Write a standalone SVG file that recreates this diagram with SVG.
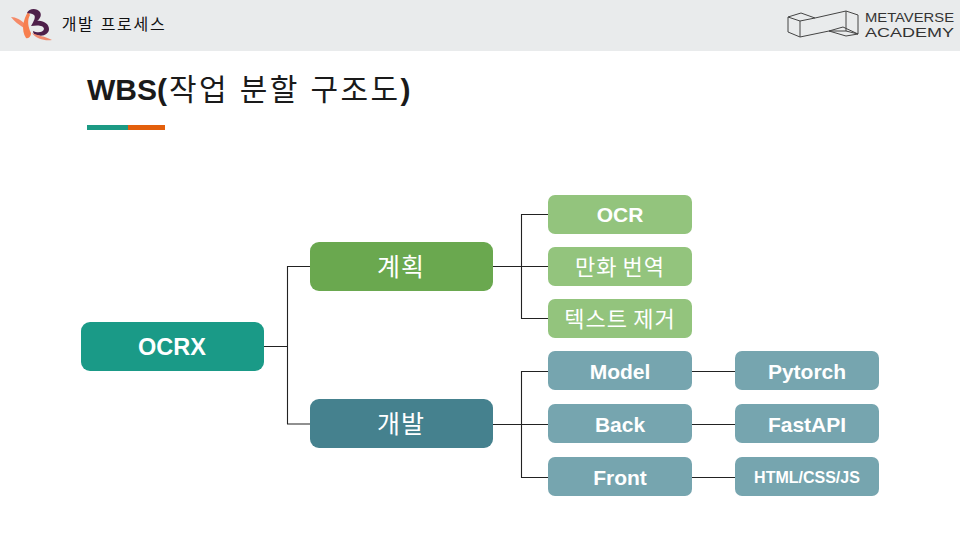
<svg xmlns="http://www.w3.org/2000/svg" width="960" height="540" viewBox="0 0 960 540">
<defs><style>
text{font-family:"Liberation Sans","Noto Sans CJK KR",sans-serif;text-anchor:middle}
.n{fill:#fff;font-weight:700;font-size:21px}
.k{fill:#fff;font-size:22px;letter-spacing:1px;word-spacing:-2px}
.t{text-anchor:start}
.c{fill:none;stroke:#222;stroke-width:1.1}
.g{fill:#93c47d}.b{fill:#76a5af}
</style></defs>
<rect width="960" height="51" fill="#e9ebec"/>
<g id="logo-left">
<path d="M11 17 C16 17 21 20 25 24 L24 28 C19 25 14 21 11 17Z" fill="#f58a68"/>
<path d="M28 12 C23 20 21 30 26 38 C29 39 31 36 31 33 C28 27 27 20 30 15Z" fill="#f77f4f"/>
<path d="M27 13 C29 8 37 8 40 12 C42 15 40 19 37 21 C43 20 49 24 49 29 C49 34 43 37 37 35 C34 35 33 33 33 31 C37 33 43 33 44 29 C44 25 37 25 31 26 C34 21 36 17 34 15 C32 13 29 14 27 13Z" fill="#4e1f4a"/>
<path d="M32 33 C38 36 45 36 52 40 C45 41 36 39 32 33Z" fill="#f08a6e"/>
</g>
<text x="114" y="30" font-size="16" fill="#111" style="letter-spacing:1.7px">개발 프로세스</text>
<g id="logo-right" fill="none" stroke="#444" stroke-width="1">
<path d="M788 17 L801 13 L815 18 L800 21 Z M788 17 V32 L800 37 V21 M815 18 L846 11 L858 15 V34 L846 31 V11 M800 37 L829 31 L846 31 M829 31 L843 27 L858 34 L846 36 L829 31"/>
</g>
<g fill="#333" font-size="13">
<text class="t" x="865" y="21.500" textLength="89" lengthAdjust="spacingAndGlyphs">METAVERSE</text>
<text class="t" x="865" y="36.500" textLength="89" lengthAdjust="spacingAndGlyphs">ACADEMY</text>
</g>
<text class="t" x="87" y="100" font-size="30" fill="#1a1a1a" font-weight="700"><tspan>WBS(</tspan><tspan dx="2" font-weight="400" letter-spacing="2.400">작업 분할 구조도</tspan><tspan>)</tspan></text>
<rect x="87" y="125" width="41" height="5" fill="#1c9a84"/>
<rect x="128" y="125" width="37" height="5" fill="#e35f0c"/>
<g id="connectors">
<path class="c" d="M264 346.500H287.500V266.500H310M287.500 346.500V424H310"/>
<path class="c" d="M493 266.500H548M521.500 266.500V214.500H548M521.500 266.500V318.500H548"/>
<path class="c" d="M493 424.500H548M521.500 424.500V371.500H548M521.500 424.500V477.500H548"/>
<path class="c" d="M692 371.500H735M692 424.500H735M692 477.500H735"/>
</g>
<g id="ocrx"><rect x="81" y="322" width="183" height="49" rx="9" fill="#1a9a87"/><text class="n" x="172" y="354.500" style="font-size:23.500px">OCRX</text></g>
<g id="plan"><rect x="310" y="242" width="183" height="49" rx="9" fill="#6aa84f"/><text class="k" x="401" y="276" style="font-size:25px">계획</text></g>
<g id="dev"><rect x="310" y="399" width="183" height="49" rx="9" fill="#45818e"/><text class="k" x="401" y="433" style="font-size:25px">개발</text></g>
<g id="ocr"><rect class="g" x="548" y="195" width="144" height="39" rx="7"/><text class="n" x="620" y="222">OCR</text></g>
<g id="translate"><rect class="g" x="548" y="247" width="144" height="39" rx="7"/><text class="k" x="620" y="275">만화 번역</text></g>
<g id="remove"><rect class="g" x="548" y="299" width="144" height="39" rx="7"/><text class="k" x="620" y="327">텍스트 제거</text></g>
<g id="model"><rect class="b" x="548" y="351" width="144" height="39" rx="7"/><text class="n" x="620" y="379">Model</text></g>
<g id="back"><rect class="b" x="548" y="404" width="144" height="39" rx="7"/><text class="n" x="620" y="432">Back</text></g>
<g id="front"><rect class="b" x="548" y="457" width="144" height="39" rx="7"/><text class="n" x="620" y="485">Front</text></g>
<g id="pytorch"><rect class="b" x="735" y="351" width="144" height="39" rx="7"/><text class="n" x="807" y="379">Pytorch</text></g>
<g id="fastapi"><rect class="b" x="735" y="404" width="144" height="39" rx="7"/><text class="n" x="807" y="432">FastAPI</text></g>
<g id="html"><rect class="b" x="735" y="457" width="144" height="39" rx="7"/><text class="n" x="807" y="483" style="font-size:16px">HTML/CSS/JS</text></g>
</svg>
